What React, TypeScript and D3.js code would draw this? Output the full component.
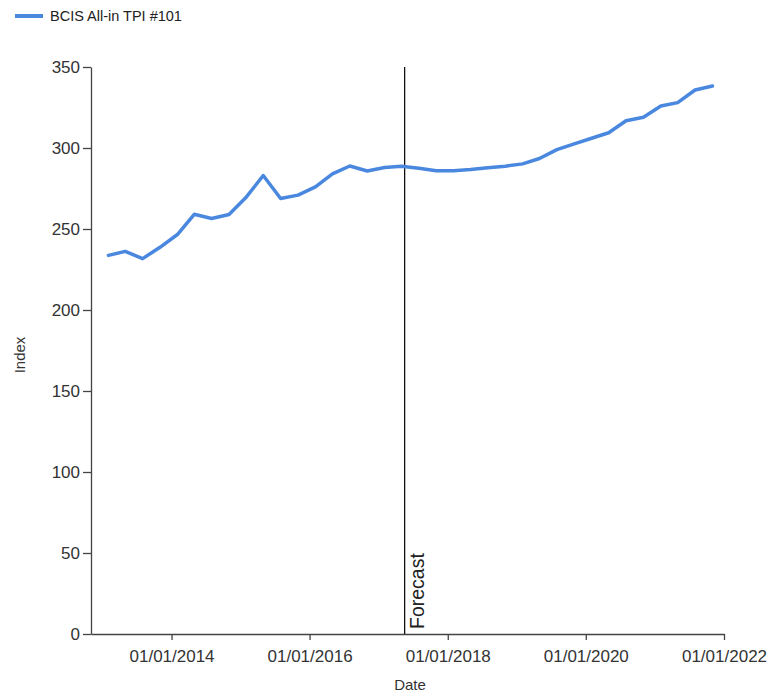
import React, { useEffect, useRef } from 'react';
import * as d3 from 'd3';

// Quarterly index points
const dates: string[] = [
  '2013-02-01', '2013-05-01', '2013-08-01', '2013-11-01',
  '2014-02-01', '2014-05-01', '2014-08-01', '2014-11-01',
  '2015-02-01', '2015-05-01', '2015-08-01', '2015-11-01',
  '2016-02-01', '2016-05-01', '2016-08-01', '2016-11-01',
  '2017-02-01', '2017-05-01', '2017-08-01', '2017-11-01',
  '2018-02-01', '2018-05-01', '2018-08-01', '2018-11-01',
  '2019-02-01', '2019-05-01', '2019-08-01', '2019-11-01',
  '2020-02-01', '2020-05-01', '2020-08-01', '2020-11-01',
  '2021-02-01', '2021-05-01', '2021-08-01', '2021-11-01',
];
const tpiValues: number[] = [
  233.7, 236.2, 231.7, 238.7,
  246.6, 259.1, 256.5, 258.9,
  269.8, 283.0, 268.8, 270.9,
  276.0, 284.0, 288.9, 285.8,
  288.0, 288.8, 287.5, 285.9,
  285.9, 286.7, 287.8, 288.8,
  290.2, 293.5, 299.0, 302.5,
  306.0, 309.4, 316.8, 319.0,
  325.9, 328.0, 335.8, 338.3,
];
const seriesName = 'BCIS All-in TPI #101';
const forecastDate = '2017-05-18';
const xDomain: string[] = ['2012-11-01', '2022-01-01'];
const xTicks: string[] = ['2014-01-01', '2016-01-01', '2018-01-01', '2020-01-01', '2022-01-01'];
const yTicks: number[] = [0, 50, 100, 150, 200, 250, 300, 350];

const LINE_COLOR = '#4a88e0';
const FONT = '"Liberation Sans", Arial, sans-serif';

const App: React.FC = () => {
  const ref = useRef<SVGSVGElement | null>(null);

  useEffect(() => {
    if (!ref.current) return;
    const svg = d3.select(ref.current);
    svg.selectAll('*').remove();

    const parse = d3.timeParse('%Y-%m-%d');
    const data = dates.map((d, i) => ({ date: parse(d) as Date, value: tpiValues[i] }));

    const left = 91, right = 724, top = 67, bottom = 634;

    const x = d3.scaleTime()
      .domain(xDomain.map(d => parse(d) as Date))
      .range([left, right]);
    const y = d3.scaleLinear().domain([0, 350]).range([bottom, top]);

    // legend
    svg.append('line')
      .attr('x1', 15).attr('x2', 43).attr('y1', 16).attr('y2', 16)
      .attr('stroke', LINE_COLOR).attr('stroke-width', 4);
    svg.append('text')
      .attr('x', 50).attr('y', 21)
      .style('font-family', FONT).style('font-size', '14.5px').style('fill', '#222')
      .text(seriesName);

    // y axis
    const yAxis = svg.append('g')
      .attr('transform', `translate(${left},0)`)
      .call(d3.axisLeft(y).tickValues(yTicks).tickSize(8).tickPadding(3).tickSizeOuter(0));
    yAxis.selectAll('text').style('font-family', FONT).style('font-size', '17px').style('fill', '#333');
    yAxis.selectAll('line, path').attr('stroke', '#444').attr('stroke-width', 1.3);

    // x axis
    const fmt = d3.timeFormat('%d/%m/%Y');
    const xAxis = svg.append('g')
      .attr('transform', `translate(0,${bottom})`)
      .call(d3.axisBottom(x)
        .tickValues(xTicks.map(d => parse(d) as Date))
        .tickFormat(d => fmt(d as Date))
        .tickSize(6).tickPadding(10).tickSizeOuter(0));
    xAxis.selectAll('text').style('font-family', FONT).style('font-size', '17px').style('fill', '#333');
    xAxis.selectAll('line, path').attr('stroke', '#444').attr('stroke-width', 1.3);

    // axis titles
    svg.append('text')
      .attr('transform', `translate(25,355) rotate(-90)`)
      .attr('text-anchor', 'middle')
      .style('font-family', FONT).style('font-size', '15px').style('fill', '#333')
      .text('Index');
    svg.append('text')
      .attr('x', 410).attr('y', 690)
      .attr('text-anchor', 'middle')
      .style('font-family', FONT).style('font-size', '15px').style('fill', '#333')
      .text('Date');

    // forecast marker
    const fx = x(parse(forecastDate) as Date);
    svg.append('line')
      .attr('x1', fx).attr('x2', fx).attr('y1', top).attr('y2', bottom)
      .attr('stroke', '#000').attr('stroke-width', 1.2);
    svg.append('text')
      .attr('transform', `translate(${fx + 19},${bottom - 5}) rotate(-90)`)
      .style('font-family', FONT).style('font-size', '19.5px').style('fill', '#222')
      .text('Forecast');

    // series
    const line = d3.line<{ date: Date; value: number }>()
      .x(d => x(d.date))
      .y(d => y(d.value));
    svg.append('path')
      .datum(data)
      .attr('fill', 'none')
      .attr('stroke', LINE_COLOR)
      .attr('stroke-width', 3.5)
      .attr('stroke-linejoin', 'round')
      .attr('stroke-linecap', 'round')
      .attr('d', line);
  }, []);

  return (
    <svg
      ref={ref}
      width={770}
      height={698}
      style={{ position: 'absolute', left: 0, top: 0, background: '#fff' }}
    />
  );
};

export default App;
